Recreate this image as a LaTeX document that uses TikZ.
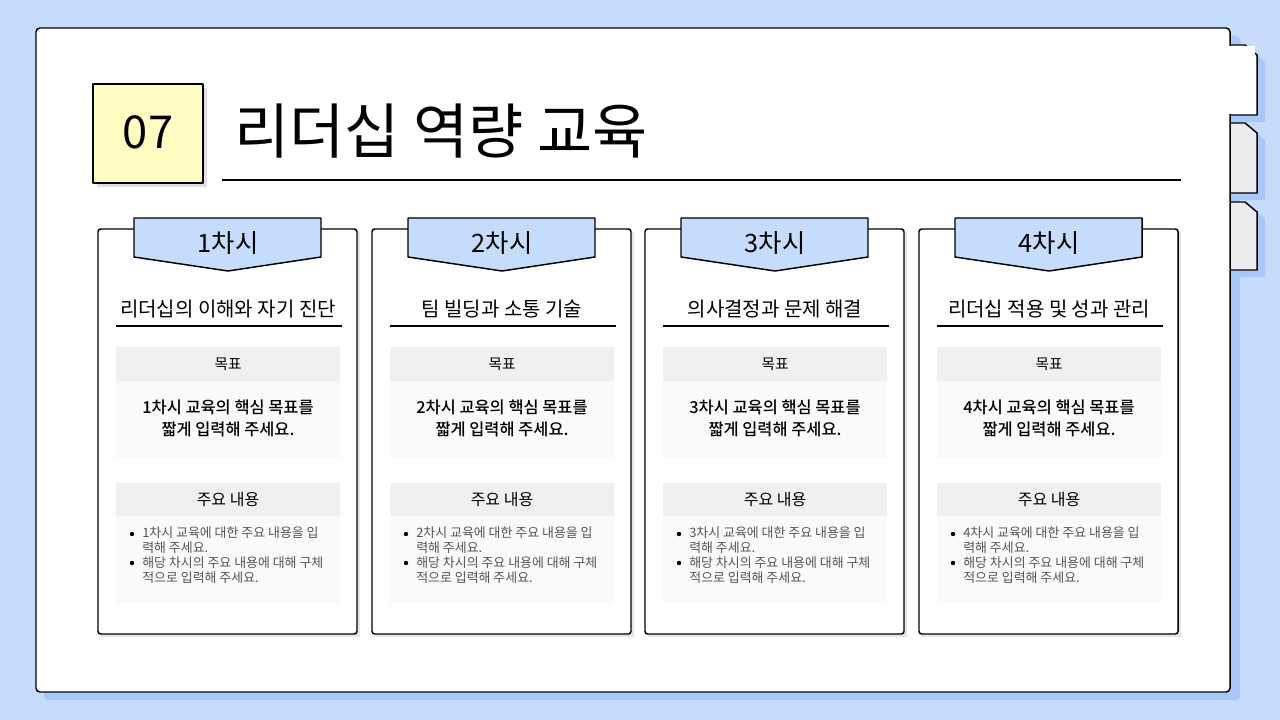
\documentclass[tikz,border=0pt]{standalone}
\usepackage{fontspec}
\setmainfont{Noto Sans CJK KR}
\newfontfamily\krb{Noto Sans CJK KR Medium}
\definecolor{bgblue}{HTML}{C7DBFC}
\definecolor{shblue}{HTML}{A9C7F8}
\definecolor{hdblue}{HTML}{C6DCFC}
\definecolor{yel}{HTML}{FFFDC2}
\definecolor{gr1}{HTML}{F0F0F1}
\definecolor{gr2}{HTML}{FAF9FB}
\definecolor{tabg}{HTML}{EDEDEE}
\definecolor{txtg}{HTML}{555555}
\newcommand{\fs}[2]{\fontsize{#1pt}{#2pt}\selectfont}
\tikzset{ln/.style={draw=black,line width=1.1pt,line join=round},
 txt/.style={inner sep=0pt,align=center}}
\begin{document}
\begin{tikzpicture}[x=0.75pt,y=-0.75pt]
\fill[bgblue] (0,0) rectangle (1280,720);
\useasboundingbox (0,0) rectangle (1280,720);
% shadows
\fill[shblue,rounded corners=3] (44,36) rectangle (1240,700);
\foreach \a/\b in {45/115,123/193,202/270}{
 \fill[shblue] (1230,\a+7) -- (1253,\a+7) -- (1265,\a+17) -- (1265,\b+7) -- (1230,\b+7) -- cycle;}
% tabs
\foreach \a/\b/\c in {123/193/tabg,202/270/tabg}{
 \draw[ln,fill=\c] (1230,\a) -- (1245,\a) -- (1257,\a+10) -- (1257,\b) -- (1230,\b);}
\draw[ln,fill=white] (1228,45) -- (1245,45) -- (1257,55) -- (1257,115) -- (1228,115);
% panel
\fill[white,rounded corners=3] (36,28) rectangle (1230,692);
\draw[ln,rounded corners=3] (1230,46) -- (1230,28) -- (36,28) -- (36,692) -- (1230,692) -- (1230,114);
\fill[white] (1229,46.5) rectangle (1255,113.5);
% number box
\fill[black!12] (97,88) rectangle (207,187);
\draw[ln,fill=yel] (93,84) rectangle (203,183);
\node[txt,font=\fs{34}{40}] (num) at (148,132) {07};
\node[txt,anchor=west,font=\fs{45}{54}] (title) at (234,131) {리더십 역량 교육};
\draw[line width=1.3pt] (222,180) -- (1181,180);
% cards
\foreach \i/\x in {1/98,2/372,3/645,4/919}{
 \begin{scope}[shift={(\x,0)}]
 \fill[black!10] (3,232) rectangle (262,637);
 \draw[ln,fill=white,rounded corners=2] (0,229) rectangle (259,634);
 \draw[ln,fill=hdblue] (36,218) -- (223,218) -- (223,257) -- (130,271) -- (36,257) -- cycle;
 \node[txt,font=\fs{19}{24}] (h\i) at (130,243) {{\i}차시};
 \fill[gr1] (18,347) rectangle (242,381);
 \fill[gr2] (18,381) rectangle (242,458);
 \fill[gr1] (18,483) rectangle (242,516);
 \fill[gr2] (18,516) rectangle (242,604);
 \draw[line width=1.1pt] (18,326) -- (244,326);
 \node[txt,font=\fs{11}{14}] (g\i) at (130,364) {목표};
 \node[txt,font=\krb\fs{12.3}{16.5}] (gb\i) at (130,418) {{\i}차시 교육의 핵심 목표를\\짧게 입력해 주세요.};
 \node[txt,font=\fs{12}{15}] (c\i) at (130,500) {주요 내용};
 \node[txt,anchor=north west,align=left,text=txtg,font=\fs{9.7}{11.2}] (cb\i) at (44,526.5) {{\i}차시 교육에 대한 주요 내용을 입\\력해 주세요.\\해당 차시의 주요 내용에 대해 구체\\적으로 입력해 주세요.};
 \fill (34,534) circle (2.2);
 \fill (34,563) circle (2.2);
 \end{scope}}
\node[txt,font=\fs{15}{18}] (s1) at (228,309) {리더십의 이해와 자기 진단};
\node[txt,font=\fs{15}{18}] (s2) at (502,309) {팀 빌딩과 소통 기술};
\node[txt,font=\fs{15}{18}] (s3) at (775,309) {의사결정과 문제 해결};
\node[txt,font=\fs{15}{18}] (s4) at (1049,309) {리더십 적용 및 성과 관리};
\end{tikzpicture}
\end{document}
